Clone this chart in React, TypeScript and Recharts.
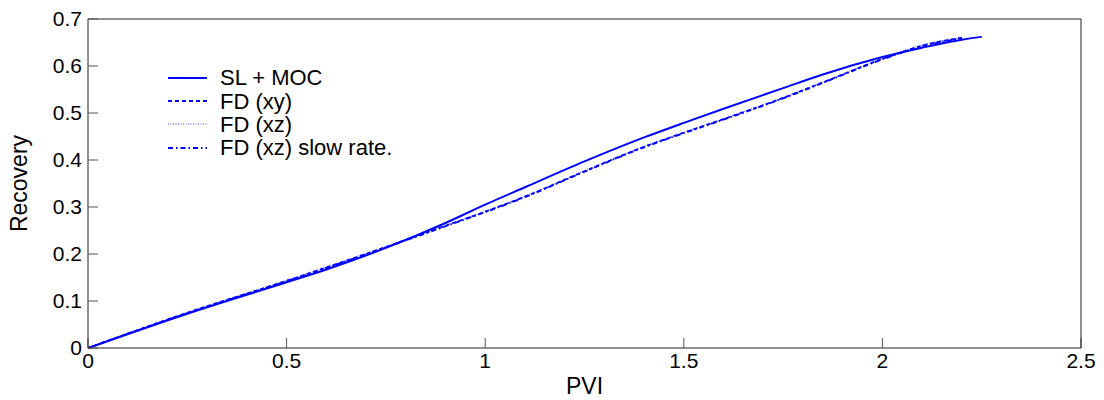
import { LineChart, Line, XAxis, YAxis, Label } from "recharts";

// PVI / recovery
const pviSL = [0, 0.25, 0.5, 0.6, 0.75, 0.9, 1.0, 1.1, 1.25, 1.4, 1.5, 1.6, 1.75, 1.85, 2.0, 2.1, 2.2, 2.25];
const recSL = [0, 0.073, 0.14, 0.167, 0.213, 0.266, 0.305, 0.342, 0.397, 0.448, 0.479, 0.509, 0.553, 0.582, 0.619, 0.639, 0.656, 0.662];

const pviFD = [0, 0.25, 0.5, 0.75, 0.9, 1.0, 1.1, 1.25, 1.4, 1.5, 1.6, 1.75, 1.85, 2.0, 2.1, 2.2];
const recXY = [0, 0.075, 0.143, 0.215, 0.26, 0.29, 0.322, 0.376, 0.428, 0.458, 0.487, 0.532, 0.565, 0.615, 0.643, 0.66];
const recXZ = [0, 0.076, 0.144, 0.216, 0.261, 0.291, 0.323, 0.377, 0.429, 0.459, 0.488, 0.533, 0.566, 0.616, 0.645, 0.661];
const recSlow = [0, 0.074, 0.142, 0.214, 0.259, 0.289, 0.321, 0.375, 0.427, 0.457, 0.486, 0.531, 0.564, 0.614, 0.642, 0.659];

const xTicks = [0, 0.5, 1, 1.5, 2, 2.5];
const yTicks = [0, 0.1, 0.2, 0.3, 0.4, 0.5, 0.6, 0.7];

const toRows = (xs: number[], ys: number[]) => xs.map((x, i) => ({ x, y: ys[i] }));

const series = [
  { name: "SL + MOC", data: toRows(pviSL, recSL), dash: undefined, width: 2, opacity: 1 },
  { name: "FD (xy)", data: toRows(pviFD, recXY), dash: "4 3", width: 1.8, opacity: 1 },
  { name: "FD (xz)", data: toRows(pviFD, recXZ), dash: "1 1.5", width: 1, opacity: 0.7 },
  { name: "FD (xz) slow rate.", data: toRows(pviFD, recSlow), dash: "5 3 1.5 3", width: 1.8, opacity: 1 },
];

const BLUE = "#0000ff";
const FONT = "'Liberation Sans', Arial, sans-serif";

// legend sits inside the axes, top-left, no box
const LegendBox = () => (
  <div style={{ position: "absolute", left: 166, top: 66, fontFamily: FONT, fontSize: 22, color: "#000" }}>
    {series.map((s) => (
      <div key={s.name} style={{ display: "flex", alignItems: "center", height: 23.4 }}>
        <svg width={42} height={10} style={{ marginRight: 12 }}>
          <line x1={2} y1={5} x2={41} y2={5} stroke={BLUE} strokeWidth={s.width}
            strokeDasharray={s.dash} strokeOpacity={s.opacity} />
        </svg>
        <span style={{ lineHeight: "23px", whiteSpace: "nowrap" }}>{s.name}</span>
      </div>
    ))}
  </div>
);

const tickStyle = { fill: "#000", fontSize: 21, fontFamily: FONT };

export default function App() {
  return (
    <div style={{ position: "absolute", left: 0, top: 0, width: 1104, height: 400, background: "#fff" }}>
      <LineChart width={1104} height={400} margin={{ top: 18, right: 22, bottom: 0, left: 0 }}>
        <XAxis xAxisId="b" type="number" dataKey="x" domain={[0, 2.5]} ticks={xTicks}
          allowDataOverflow height={52} stroke="#222" tickSize={-10} tickMargin={15}
          tick={tickStyle} tickLine={{ stroke: "#555" }}>
          <Label value="PVI" position="insideBottom" offset={6}
            style={{ fill: "#000", fontSize: 23, fontFamily: FONT }} />
        </XAxis>
        <XAxis xAxisId="t" orientation="top" type="number" dataKey="x" domain={[0, 2.5]}
          ticks={xTicks} height={1} stroke="#222" tickSize={-10} tick={false}
          tickLine={{ stroke: "#555" }} />
        <YAxis yAxisId="l" type="number" domain={[0, 0.7]} ticks={yTicks} width={88}
          stroke="#222" tickSize={-10} tickMargin={16} tick={tickStyle}
          tickLine={{ stroke: "#555" }}>
          <Label value="Recovery" angle={-90} position="insideLeft" offset={19}
            style={{ fill: "#000", fontSize: 23, fontFamily: FONT, textAnchor: "middle" }} />
        </YAxis>
        <YAxis yAxisId="r" orientation="right" type="number" domain={[0, 0.7]} ticks={yTicks}
          width={1} stroke="#222" tickSize={-10} tick={false} tickLine={{ stroke: "#555" }} />
        {series.map((s) => (
          <Line key={s.name} xAxisId="b" yAxisId="l" data={s.data} dataKey="y" name={s.name}
            type="monotone" stroke={BLUE} strokeWidth={s.width} strokeDasharray={s.dash}
            strokeOpacity={s.opacity} dot={false} activeDot={false} isAnimationActive={false} />
        ))}
      </LineChart>
      <LegendBox />
    </div>
  );
}
